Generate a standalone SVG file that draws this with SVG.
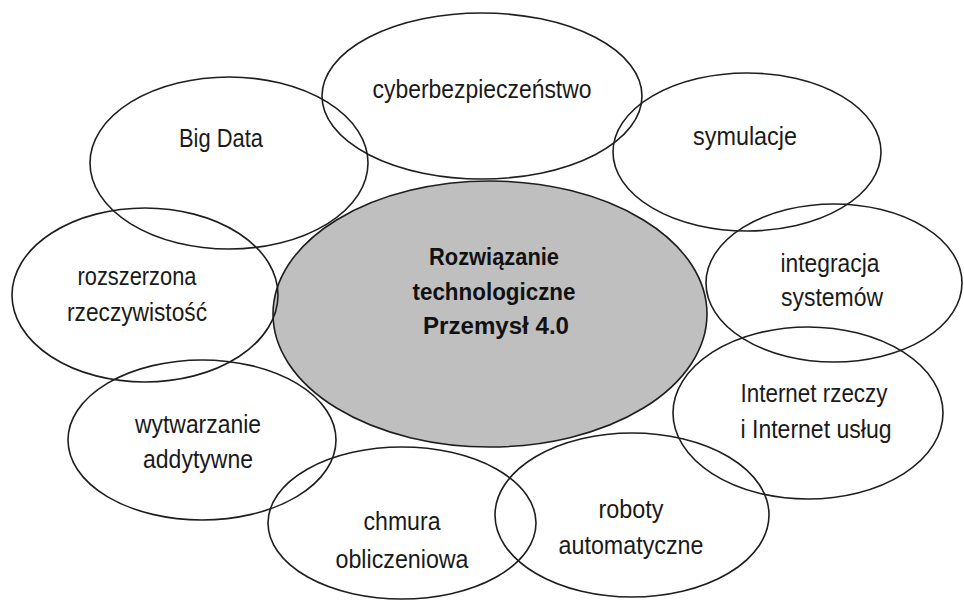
<svg xmlns="http://www.w3.org/2000/svg" width="964" height="600" viewBox="0 0 964 600">
  <style>
    .bubble { fill: none; stroke: #1e1e1e; stroke-width: 1.6; }
    .core { fill: #bfbfbf; stroke: #1e1e1e; stroke-width: 1.6; }
    .lbl { font-family: "Liberation Sans", Arial, sans-serif; font-size: 26px; fill: #1a1a1a; text-anchor: middle; }
    .main { font-family: "Liberation Sans", Arial, sans-serif; font-size: 23px; font-weight: bold; fill: #111; text-anchor: middle; }
  </style>
  <rect width="964" height="600" fill="#ffffff"/>

  <!-- central concept -->
  <g id="core">
    <ellipse class="core" cx="490" cy="314" rx="217" ry="133"/>
    <text class="main" x="494" y="265" textLength="130" lengthAdjust="spacingAndGlyphs">Rozwiązanie</text>
    <text class="main" x="494" y="300" textLength="163" lengthAdjust="spacingAndGlyphs">technologiczne</text>
    <text class="main" x="496" y="334" textLength="146" lengthAdjust="spacingAndGlyphs">Przemysł 4.0</text>
  </g>

  <!-- surrounding technologies -->
  <g id="cyber">
    <ellipse class="bubble" cx="482" cy="96" rx="160" ry="83"/>
    <text class="lbl" x="482" y="98" textLength="219" lengthAdjust="spacingAndGlyphs">cyberbezpieczeństwo</text>
  </g>
  <g id="bigdata">
    <ellipse class="bubble" cx="229" cy="163" rx="139" ry="86"/>
    <text class="lbl" x="221" y="147" textLength="84" lengthAdjust="spacingAndGlyphs">Big Data</text>
  </g>
  <g id="symulacje">
    <ellipse class="bubble" cx="747" cy="152" rx="134" ry="79"/>
    <text class="lbl" x="745" y="145" textLength="104" lengthAdjust="spacingAndGlyphs">symulacje</text>
  </g>
  <g id="integracja">
    <ellipse class="bubble" cx="834" cy="283" rx="128" ry="79"/>
    <text class="lbl" x="830" y="272" textLength="99" lengthAdjust="spacingAndGlyphs">integracja</text>
    <text class="lbl" x="832" y="306" textLength="102" lengthAdjust="spacingAndGlyphs">systemów</text>
  </g>
  <g id="rozszerzona">
    <ellipse class="bubble" cx="145" cy="295" rx="133" ry="87"/>
    <text class="lbl" x="137" y="285" textLength="119" lengthAdjust="spacingAndGlyphs">rozszerzona</text>
    <text class="lbl" x="137" y="321" textLength="140" lengthAdjust="spacingAndGlyphs">rzeczywistość</text>
  </g>
  <g id="internet">
    <ellipse class="bubble" cx="808" cy="413" rx="135" ry="86"/>
    <text class="lbl" x="814" y="402" textLength="147" lengthAdjust="spacingAndGlyphs">Internet rzeczy</text>
    <text class="lbl" x="816" y="438" textLength="151" lengthAdjust="spacingAndGlyphs">i Internet usług</text>
  </g>
  <g id="wytwarzanie">
    <ellipse class="bubble" cx="202" cy="440" rx="134" ry="80"/>
    <text class="lbl" x="198" y="433" textLength="126" lengthAdjust="spacingAndGlyphs">wytwarzanie</text>
    <text class="lbl" x="198" y="468" textLength="110" lengthAdjust="spacingAndGlyphs">addytywne</text>
  </g>
  <g id="chmura">
    <ellipse class="bubble" cx="402" cy="523" rx="134" ry="76"/>
    <text class="lbl" x="402" y="530" textLength="77" lengthAdjust="spacingAndGlyphs">chmura</text>
    <text class="lbl" x="402" y="568" textLength="133" lengthAdjust="spacingAndGlyphs">obliczeniowa</text>
  </g>
  <g id="roboty">
    <ellipse class="bubble" cx="632" cy="515" rx="137" ry="82"/>
    <text class="lbl" x="631" y="518" textLength="65" lengthAdjust="spacingAndGlyphs">roboty</text>
    <text class="lbl" x="631" y="554" textLength="145" lengthAdjust="spacingAndGlyphs">automatyczne</text>
  </g>

  <!-- no connectors: bubbles touch/overlap directly -->
  <g id="connectors"/>
</svg>
